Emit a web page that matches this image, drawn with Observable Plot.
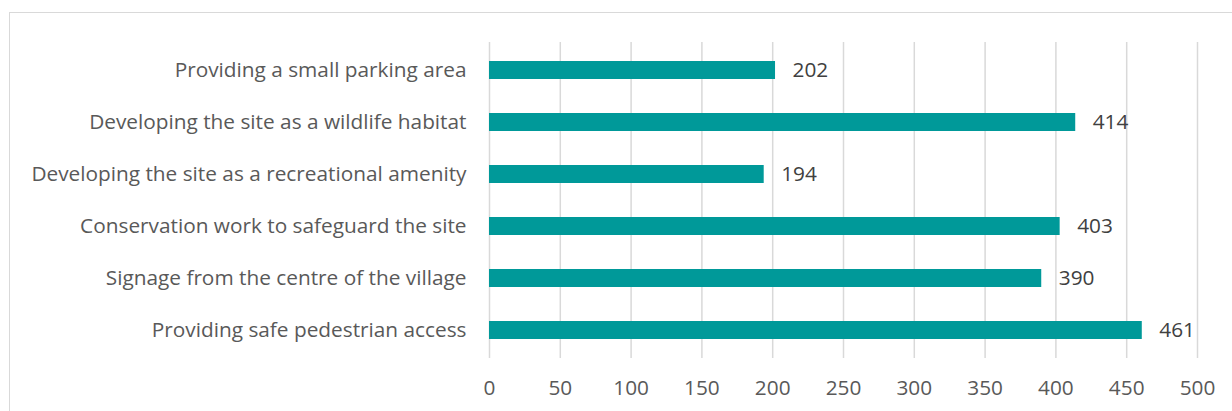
<!DOCTYPE html>
<html>
<head>
<meta charset="utf-8">
<script src="https://cdn.jsdelivr.net/npm/d3@7"></script>
<script src="https://cdn.jsdelivr.net/npm/@observablehq/plot@0.6"></script>
<style>
  html, body { margin: 0; padding: 0; background: #fff; }
  #wrap { position: relative; width: 1232px; height: 411px; overflow: hidden; }
  #border { position: absolute; left: 9px; top: 12px; width: 1240px; height: 420px;
            border-left: 1.5px solid #d9d9d9; border-top: 1.5px solid #d9d9d9; box-sizing: border-box; pointer-events: none; }
  svg { display: block; }
</style>
</head>
<body>
<div id="wrap"><div id="border"></div></div>
<script>
const categories = [
  "Providing a small parking area",
  "Developing the site as a wildlife habitat",
  "Developing the site as a recreational amenity",
  "Conservation work to safeguard the site",
  "Signage from the centre of the village",
  "Providing safe pedestrian access"
];
const values = [202, 414, 194, 403, 390, 461];
const xTicks = [0, 50, 100, 150, 200, 250, 300, 350, 400, 450, 500];

const data = categories.map((c, i) => ({category: c, value: values[i]}));
const FS = 20.8;

const chart = Plot.plot({
  width: 1232,
  height: 411,
  marginLeft: 489,
  marginRight: 35,
  marginTop: 42,
  marginBottom: 53,
  style: {fontFamily: "'Open Sans', sans-serif", fontSize: FS + "px", color: "#595959", background: "transparent"},
  x: {domain: [0, 500], ticks: xTicks, label: null},
  y: {domain: categories, paddingInner: 0.65, paddingOuter: 0.325, label: null},
  marks: [
    Plot.ruleX(xTicks, {stroke: "#d9d9d9", strokeWidth: 1.5}),
    Plot.barX(data, {x: "value", y: "category", fill: "#009999"}),
    Plot.text(data, {x: "value", y: "category", text: d => String(d.value), textAnchor: "start", dx: 17, fill: "#404040", fontSize: FS}),
    Plot.axisX({ticks: xTicks, tickSize: 0, tickPadding: 22, label: null, fontSize: FS, color: "#595959"}),
    Plot.axisY({tickSize: 0, tickPadding: 23, label: null, fontSize: FS, color: "#595959"})
  ]
});
document.getElementById("wrap").appendChild(chart);
</script>
</body>
</html>
